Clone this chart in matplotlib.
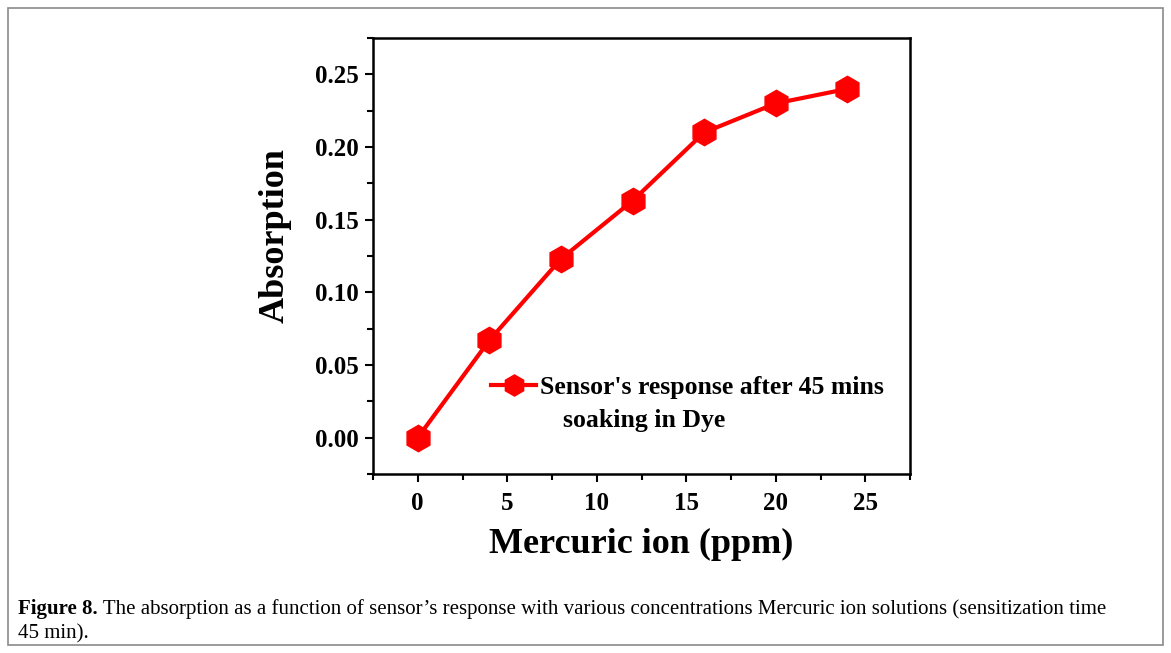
import matplotlib
matplotlib.use("Agg")
import matplotlib.pyplot as plt
from matplotlib.patches import Rectangle
from matplotlib.ticker import MultipleLocator, FormatStrFormatter

conc = [0, 4, 8, 12, 16, 20, 24]
absorption = [0.0, 0.067, 0.123, 0.163, 0.210, 0.230, 0.240]
series_label_1 = "Sensor's response after 45 mins"
series_label_2 = "soaking in Dye"
xlabel = "Mercuric ion (ppm)"
ylabel = "Absorption"
caption_bold = "Figure 8."
caption_rest = " The absorption as a function of sensor\u2019s response with various concentrations Mercuric ion solutions (sensitization time"
caption_line2 = "45 min)."

W, H = 1171, 653
fig = plt.figure(figsize=(W / 100, H / 100), dpi=100)
serif = "Liberation Serif"

# outer frame
fig.patches.append(Rectangle((8 / W, 8 / H), (1163 - 8) / W, (645 - 8) / H,
                             transform=fig.transFigure, fill=False,
                             edgecolor="#8a8a8a", linewidth=1.2))

ax = fig.add_axes([373 / W, 1 - 474 / H, (910 - 373) / W, (474 - 38) / H])
ax.plot(conc, absorption, color="#ff0000", linewidth=3, marker="h",
        markersize=19, markerfacecolor="#ff0000", markeredgecolor="#ff0000",
        label=series_label_1)
ax.set_xlim(-2.5, 27.5)
ax.set_ylim(-0.025, 0.275)
ax.xaxis.set_major_locator(MultipleLocator(5))
ax.xaxis.set_minor_locator(MultipleLocator(2.5))
ax.yaxis.set_major_locator(MultipleLocator(0.05))
ax.yaxis.set_minor_locator(MultipleLocator(0.025))
ax.yaxis.set_major_formatter(FormatStrFormatter("%.2f"))
ax.tick_params(which="major", direction="out", length=6, width=1.5,
               top=False, right=False, pad=4)
ax.tick_params(axis="x", which="major", pad=7)
ax.tick_params(which="minor", direction="out", length=4, width=1.5,
               top=False, right=False)
for s in ax.spines.values():
    s.set_linewidth(1.8)
for lab in ax.get_xticklabels() + ax.get_yticklabels():
    lab.set_fontfamily(serif)
    lab.set_fontweight("bold")
    lab.set_fontsize(18)
ax.set_xlabel(xlabel, fontfamily=serif, fontweight="bold", fontsize=26, labelpad=9)
ax.set_ylabel(ylabel, fontfamily=serif, fontweight="bold", fontsize=26)
ax.yaxis.set_label_coords(-0.151, 0.548)

leg = ax.legend(loc="center left", bbox_to_anchor=(0.22, 0.1973), frameon=False,
                prop={"family": serif, "weight": "bold", "size": 18.5},
                handlelength=1.75, handletextpad=0.15, markerscale=0.8,
                borderaxespad=0, borderpad=0)
ax.text(0.353, 0.1235, series_label_2, transform=ax.transAxes,
        fontfamily=serif, fontweight="bold", fontsize=18.5, va="center", ha="left")

# caption
t1 = fig.text(18 / W, 1 - 614 / H, caption_bold, fontfamily=serif,
              fontweight="bold", fontsize=15, va="baseline")
fig.canvas.draw()
bb = t1.get_window_extent()
fig.text(bb.x1 / W, 1 - 614 / H, caption_rest, fontfamily=serif,
         fontsize=15, va="baseline")
fig.text(18 / W, 1 - 638 / H, caption_line2, fontfamily=serif,
         fontsize=15, va="baseline")

fig.savefig("out.png", dpi=100)
